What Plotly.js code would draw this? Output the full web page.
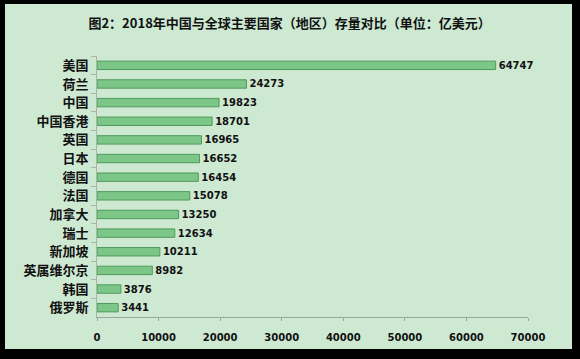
<!DOCTYPE html>
<html>
<head>
<meta charset="utf-8">
<script src="https://cdn.plot.ly/plotly-3.0.1.min.js"></script>
<style>
html,body{margin:0;padding:0;background:#000;width:580px;height:359px;overflow:hidden;}
#chart{position:absolute;left:5px;top:4px;width:567px;height:345px;}
</style>
</head>
<body>
<div id="chart"></div>
<script>
const titleText = "图2：2018年中国与全球主要国家（地区）存量对比（单位：亿美元）";
const categories = ["美国","荷兰","中国","中国香港","英国","日本","德国","法国","加拿大","瑞士","新加坡","英属维尔京","韩国","俄罗斯"];
const values = [64747,24273,19823,18701,16965,16652,16454,15078,13250,12634,10211,8982,3876,3441];
const xTickVals = [0,10000,20000,30000,40000,50000,60000,70000];

const trace = {
  type: "bar",
  orientation: "h",
  y: categories,
  x: values,
  text: values.map(String),
  textposition: "outside",
  constraintext: "none",
  cliponaxis: false,
  textfont: {family: "DejaVu Sans", size: 10, color: "#111", weight: "bold"},
  marker: {color: "#7cc688", line: {color: "#4f9a5a", width: 1}},
  hoverinfo: "none"
};

const layout = {
  width: 567, height: 345,
  paper_bgcolor: "#cde9d1",
  plot_bgcolor: "rgba(0,0,0,0)",
  margin: {l: 92, r: 44, t: 52, b: 32},
  bargap: 0.55,
  showlegend: false,
  title: {
    text: "<b>" + titleText + "</b>",
    font: {family: "Noto Sans CJK SC", size: 13, color: "#111"},
    x: 0.502, xanchor: "center", y: 0.945, yanchor: "middle"
  },
  xaxis: {
    range: [0, 70000],
    tickvals: xTickVals,
    ticktext: xTickVals.map(String),
    tickfont: {family: "DejaVu Sans", size: 10, color: "#111", weight: "bold"},
    showgrid: false, zeroline: false,
    showline: true, linecolor: "#9aa89c", linewidth: 1,
    ticks: "outside", ticklen: 3, tickcolor: "#9aa89c",
    ticklabelstandoff: 8
  },
  yaxis: {
    autorange: "reversed",
    type: "category",
    tickfont: {family: "Noto Sans CJK SC", size: 13, color: "#111", weight: "bold"},
    showgrid: false, zeroline: false,
    showline: true, linecolor: "#a9b5ab", linewidth: 1,
    ticks: "outside", tickson: "boundaries", ticklen: 5, tickcolor: "#a9b5ab",
    ticklabelstandoff: 5
  }
};

Plotly.newPlot("chart", [trace], layout, {displayModeBar: false, staticPlot: true});
</script>
</body>
</html>
